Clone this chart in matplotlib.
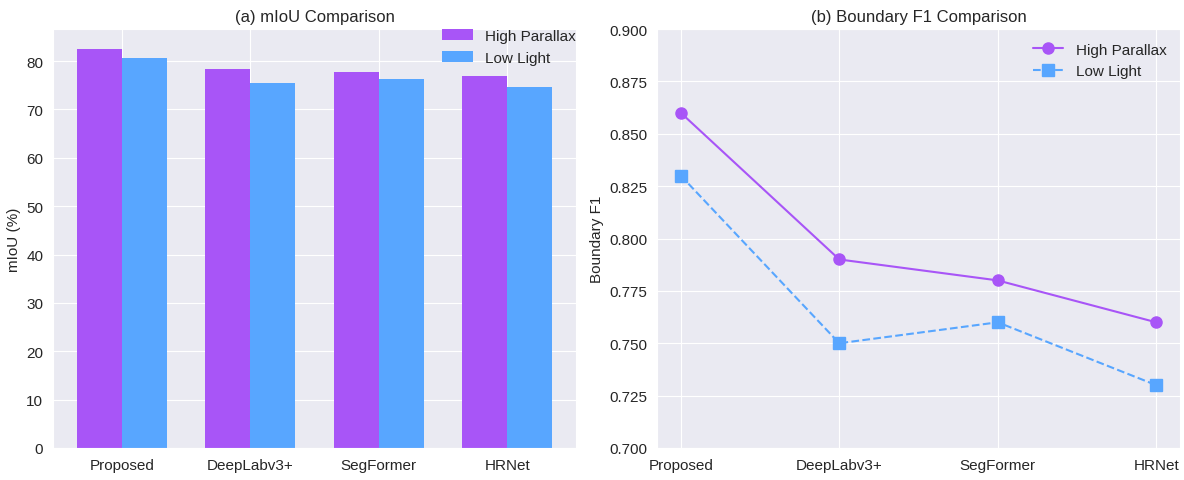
import matplotlib
matplotlib.use("Agg")
import matplotlib.pyplot as plt
import seaborn as sns
import numpy as np

methods = ["Proposed", "DeepLabv3+", "SegFormer", "HRNet"]
miou_high_parallax = [82.5, 78.4, 77.8, 77.0]
miou_low_light = [80.7, 75.5, 76.2, 74.7]
bf1_high_parallax = [0.86, 0.79, 0.78, 0.76]
bf1_low_light = [0.83, 0.75, 0.76, 0.73]
series_names = ["High Parallax", "Low Light"]

sns.set_style("darkgrid")
plt.rcParams["font.family"] = ["Liberation Sans", "DejaVu Sans"]

purple = "#A855F7"
blue = "#58A6FF"

fig, (ax1, ax2) = plt.subplots(1, 2, figsize=(11.84, 4.81), dpi=100)
fig.subplots_adjust(left=53 / 1184, right=1180 / 1184, top=1 - 30 / 481,
                    bottom=1 - 449 / 481, wspace=0.155)

x = np.arange(len(methods))
w = 0.35
ax1.bar(x - w / 2, miou_high_parallax, w, color=purple, linewidth=0,
        label=series_names[0])
ax1.bar(x + w / 2, miou_low_light, w, color=blue, linewidth=0,
        label=series_names[1])
ax1.set_xticks(x)
ax1.set_xticklabels(methods)
ax1.set_ylabel("mIoU (%)")
ax1.set_title("(a) mIoU Comparison")
ax1.legend(loc="upper right", frameon=False, fontsize=11,
           borderaxespad=0.0, borderpad=0.0)

ax2.plot(x, bf1_high_parallax, marker="o", linestyle="-", color=purple,
         markersize=8, linewidth=1.5, label=series_names[0])
ax2.plot(x, bf1_low_light, marker="s", linestyle="--", color=blue,
         markersize=8, linewidth=1.5, label=series_names[1])
ax2.set_xticks(x)
ax2.set_xticklabels(methods)
ax2.set_ylim(0.70, 0.90)
ax2.set_yticks(np.arange(0.70, 0.901, 0.025))
ax2.yaxis.set_major_formatter(matplotlib.ticker.FormatStrFormatter("%.3f"))
ax2.set_ylabel("Boundary F1")
ax2.set_title("(b) Boundary F1 Comparison")
ax2.legend(loc="upper right", frameon=False, fontsize=11)

for ax in (ax1, ax2):
    ax.tick_params(labelsize=11)
    ax.title.set_fontsize(12)
    ax.yaxis.label.set_fontsize(11)

fig.savefig("out.png", dpi=100)
